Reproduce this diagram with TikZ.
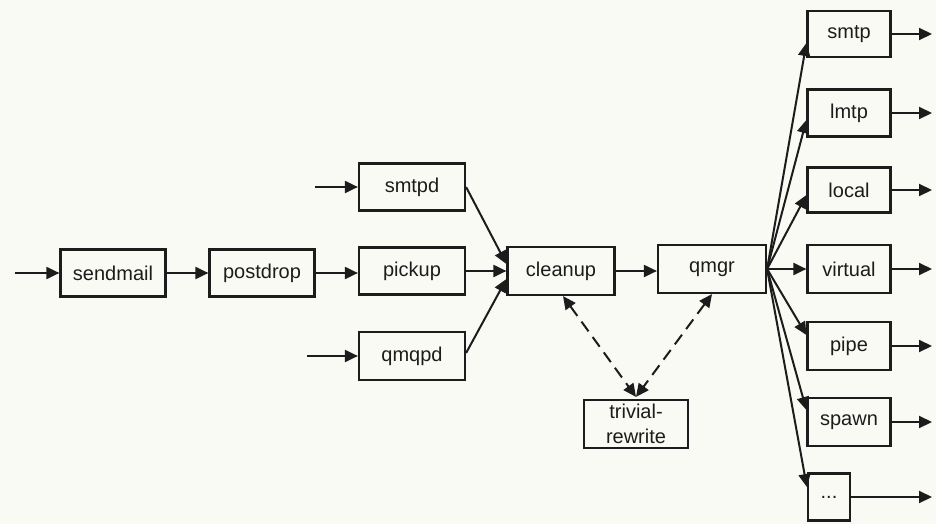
\documentclass[tikz,border=0pt]{standalone}
\usepackage{fontspec}
\setmainfont{Liberation Sans}
\usetikzlibrary{arrows.meta,calc}
\definecolor{paper}{RGB}{250,250,244}
\definecolor{ink}{RGB}{28,28,28}
\tikzset{
  proc/.style={draw=ink, line width=2.2pt, fill=paper, minimum height=47pt,
    minimum width=105pt, inner sep=0pt, font=\fontsize{20}{25}\selectfont, text=ink,
    align=center},
  outbox/.style={proc, minimum width=83pt},
  flow/.style={draw=ink, line width=2pt, -{Triangle[length=13pt,width=12pt]}},
  dflow/.style={draw=ink, line width=2pt, dash pattern=on 12pt off 7pt,
    {Triangle[length=13pt,width=12pt]}-{Triangle[length=13pt,width=12pt]}}
}
\begin{document}
\begin{tikzpicture}[x=1pt,y=-1pt]
\fill[paper] (0,0) rectangle (936,524);
\useasboundingbox (0,0) rectangle (936,524);

% input side
\node[proc] (sendmail) at (113,273) {sendmail};
\node[proc] (postdrop) at (262,273) {postdrop};
\node[proc, minimum width=106pt] (pickup) at (412,271) {pickup};
\node[proc, minimum width=106pt] (smtpd) at (412,187) {smtpd};
\node[proc, minimum width=106pt, minimum height=48pt] (qmqpd) at (412,356) {qmqpd};
\node[proc, minimum width=107pt, minimum height=48pt] (cleanup) at (561,271) {cleanup};
\node[proc, minimum width=108pt, minimum height=48pt] (qmgr) at (712,269) {qmgr};
\node[proc, minimum width=104pt, minimum height=48pt] (trivial) at (636,424) {trivial-\\rewrite};

% delivery agents
\node[outbox, minimum height=46pt] (smtp) at (849,34) {smtp};
\node[outbox] (lmtp) at (849,113) {lmtp};
\node[outbox, minimum height=45pt] (local) at (849,190) {local};
\node[outbox, minimum height=48pt] (virtual) at (849,269) {virtual};
\node[outbox, minimum height=48pt] (pipe) at (849,346) {pipe};
\node[outbox, minimum height=48pt] (spawn) at (849,422) {spawn};
\node[proc, minimum width=42pt] (dots) at (829,497) {...};

% free ends
\coordinate (inSendmail) at (15,273);
\coordinate (inSmtpd) at (315,187);
\coordinate (inQmqpd) at (307,356);
\coordinate (outSmtp) at (932,34);
\coordinate (outLmtp) at (932,113);
\coordinate (outLocal) at (932,190);
\coordinate (outVirtual) at (932,269);
\coordinate (outPipe) at (932,346);
\coordinate (outSpawn) at (932,422);
\coordinate (outDots) at (932,497);

% arrows
\draw[flow] (inSendmail) -- (sendmail);
\draw[flow] (sendmail) -- (postdrop);
\draw[flow] (postdrop.east) -- (pickup.west |- postdrop.east);
\draw[flow] (inSmtpd) -- (smtpd);
\draw[flow] (inQmqpd) -- (qmqpd);
\draw[flow] (smtpd.east) -- ([yshift=7pt]cleanup.west);
\draw[flow] (pickup.east) -- (cleanup.west);
\draw[flow] ([yshift=3pt]qmqpd.east) -- ([yshift=-8pt]cleanup.west);
\draw[flow] (cleanup.east) -- (qmgr.west |- cleanup.east);

\draw[flow] (qmgr.east) -- ([yshift=-9pt]smtp.west);
\draw[flow] (qmgr.east) -- ([yshift=-7pt]lmtp.west);
\draw[flow] (qmgr.east) -- ([yshift=-5pt]local.west);
\draw[flow] (qmgr.east) -- (virtual.west);
\draw[flow] (qmgr.east) -- ([yshift=11pt]pipe.west);
\draw[flow] (qmgr.east) -- ([yshift=12pt]spawn.west);
\draw[flow] (qmgr.east) -- ([yshift=10pt]dots.west);

\draw[dflow] ([xshift=2pt]cleanup.south) -- ([yshift=2pt]trivial.north);
\draw[dflow] (qmgr.south) -- ([yshift=2pt]trivial.north);

\draw[flow] (smtp) -- (outSmtp);
\draw[flow] (lmtp) -- (outLmtp);
\draw[flow] (local) -- (outLocal);
\draw[flow] (virtual) -- (outVirtual);
\draw[flow] (pipe) -- (outPipe);
\draw[flow] (spawn) -- (outSpawn);
\draw[flow] (dots) -- (outDots);
\end{tikzpicture}
\end{document}
